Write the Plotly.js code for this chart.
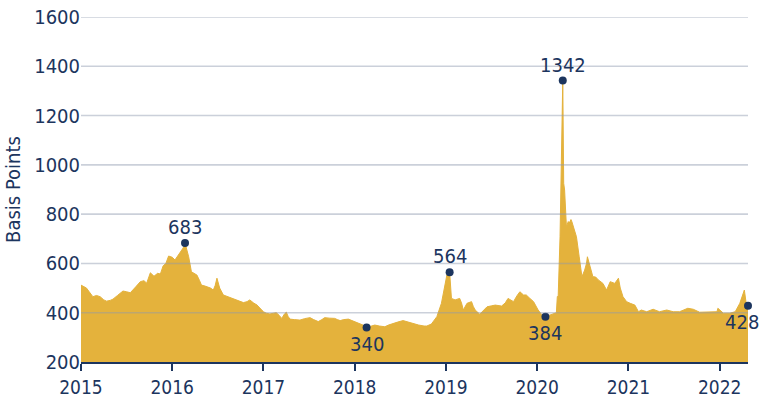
<!DOCTYPE html>
<html>
<head>
<meta charset="utf-8">
<script src="https://cdn.plot.ly/plotly-3.0.1.min.js"></script>
<style>html,body{margin:0;padding:0;background:#fff;}#chart{width:761px;height:399px;}</style>
</head>
<body>
<div id="chart"></div>
<script>
// Time in decimal years, spread in basis points
const years = [
2015.00,2015.03,2015.06,2015.09,2015.13,2015.17,2015.21,2015.25,2015.28,2015.32,2015.35,2015.40,2015.46,2015.50,2015.54,2015.60,2015.65,2015.69,2015.72,2015.76,2015.80,2015.84,2015.87,2015.90,2015.93,2015.96,
2016.00,2016.03,2016.06,2016.08,2016.10,2016.12,2016.14,2016.16,2016.18,2016.21,2016.24,2016.27,2016.30,2016.32,2016.36,2016.39,2016.42,2016.45,2016.47,2016.49,2016.52,2016.56,2016.61,2016.67,2016.72,2016.78,2016.82,2016.85,2016.89,2016.93,2016.97,
2017.00,2017.03,2017.07,2017.11,2017.14,2017.17,2017.20,2017.23,2017.25,2017.27,2017.29,2017.34,2017.40,2017.45,2017.51,2017.55,2017.60,2017.64,2017.67,2017.72,2017.78,2017.81,2017.84,2017.88,2017.93,2017.97,
2018.00,2018.04,2018.09,2018.13,2018.17,2018.22,2018.27,2018.33,2018.37,2018.42,2018.47,2018.53,2018.58,2018.64,2018.70,2018.76,2018.79,2018.84,2018.87,2018.90,2018.95,2018.98,
2019.01,2019.04,2019.06,2019.10,2019.15,2019.17,2019.19,2019.23,2019.28,2019.30,2019.32,2019.37,2019.41,2019.45,2019.50,2019.54,2019.61,2019.65,2019.68,2019.74,2019.78,2019.81,2019.85,2019.88,2019.92,2019.96,
2020.01,2020.05,2020.09,2020.14,2020.18,2020.21,2020.22,2020.23,2020.25,2020.27,2020.28,2020.29,2020.30,2020.32,2020.34,2020.35,2020.37,2020.38,2020.39,2020.43,2020.46,2020.49,2020.52,2020.54,2020.55,2020.58,2020.61,2020.64,2020.67,2020.72,2020.76,2020.80,2020.85,2020.89,2020.91,2020.94,2020.98,
2021.02,2021.07,2021.11,2021.14,2021.20,2021.27,2021.34,2021.42,2021.49,2021.56,2021.65,2021.71,2021.78,2021.87,2021.97,2021.98,
2022.04,2022.11,2022.17,2022.22,2022.27,2022.29,2022.31
];
const spread = [
512,505,500,485,465,470,465,452,447,450,455,470,488,485,481,505,526,530,520,562,548,560,557,590,600,630,
625,614,630,642,650,663,683,660,627,566,560,553,530,512,508,505,500,492,510,540,500,472,465,455,450,441,445,452,440,431,415,
404,398,395,398,400,390,377,395,402,385,374,372,370,376,380,372,364,372,380,378,377,372,368,372,374,368,
364,356,350,340,345,350,346,343,350,357,362,368,362,357,350,346,346,354,370,384,438,490,
553,564,458,452,458,440,411,438,445,425,411,394,410,424,428,431,427,440,458,445,470,485,472,472,458,445,
411,392,384,392,398,400,465,470,708,1060,1342,925,898,749,770,763,778,769,756,708,627,546,573,600,627,587,546,545,533,519,492,526,519,540,500,465,445,
438,431,404,411,404,414,404,411,404,404,418,414,402,402,404,418,
398,398,404,438,492,438,428
];
// Annotated points
const annoX = [2016.14, 2018.13, 2019.04, 2020.09, 2020.28, 2022.31];
const annoY = [683, 340, 564, 384, 1342, 428];
const annoLabel = ['683', '340', '564', '384', '1342', '428'];
const annoSide = ['above', 'below', 'above', 'below', 'above', 'below'];
const yTicks = [200, 400, 600, 800, 1000, 1200, 1400, 1600];
const xTicks = [2015, 2016, 2017, 2018, 2019, 2020, 2021, 2022];
const yTitle = 'Basis Points';

const NAVY = '#1c355e';
const GOLD = '#e4b23c';
const FONT = '"Liberation Sans Narrow", "DejaVu Sans Condensed", "Roboto Condensed", sans-serif';

const traces = [
  {x: years, y: spread, type: 'scatter', mode: 'lines', fill: 'tozeroy',
   fillcolor: GOLD, line: {color: GOLD, width: 1}, hoverinfo: 'skip'},
  {x: annoX, y: annoY, type: 'scatter', mode: 'markers',
   marker: {color: NAVY, size: 8}, cliponaxis: false, hoverinfo: 'skip'}
];

const annotations = annoX.map((x, i) => ({
  x: x, y: annoY[i], text: annoLabel[i], showarrow: false,
  xanchor: 'center',
  yanchor: annoSide[i] === 'above' ? 'bottom' : 'top',
  yshift: annoSide[i] === 'above' ? 2 : -2,
  xshift: i === annoX.length - 1 ? -6 : 0,
  font: {family: FONT, size: 20, color: NAVY}
}));

const shapes = yTicks.filter(v => v > yTicks[0]).map(v => ({
  type: 'line', xref: 'paper', x0: 0, x1: 1, yref: 'y', y0: v, y1: v,
  layer: 'above', line: {color: 'rgba(140,150,172,0.45)', width: 1.6}
}));

const layout = {
  width: 761, height: 399,
  margin: {l: 81, r: 13, t: 17, b: 37},
  paper_bgcolor: '#fff', plot_bgcolor: '#fff',
  showlegend: false,
  font: {family: FONT, size: 20, color: NAVY},
  xaxis: {
    range: [2015, 2022.31], tickvals: xTicks, ticktext: xTicks.map(String),
    showgrid: false, zeroline: false,
    showline: true, linecolor: NAVY, linewidth: 2,
    ticks: 'outside', ticklen: 7, tickwidth: 2, tickcolor: NAVY,
    tickfont: {family: FONT, size: 19, color: NAVY}
  },
  yaxis: {
    range: [200, 1600], tickvals: yTicks, ticktext: yTicks.map(String),
    showgrid: false, zeroline: false, showline: false, ticks: '',
    tickfont: {family: FONT, size: 20, color: NAVY},
    title: {text: yTitle, font: {family: FONT, size: 20, color: NAVY}, standoff: 8}
  },
  shapes: shapes,
  annotations: annotations
};

Plotly.newPlot('chart', traces, layout, {displayModeBar: false, staticPlot: true});
</script>
</body>
</html>
